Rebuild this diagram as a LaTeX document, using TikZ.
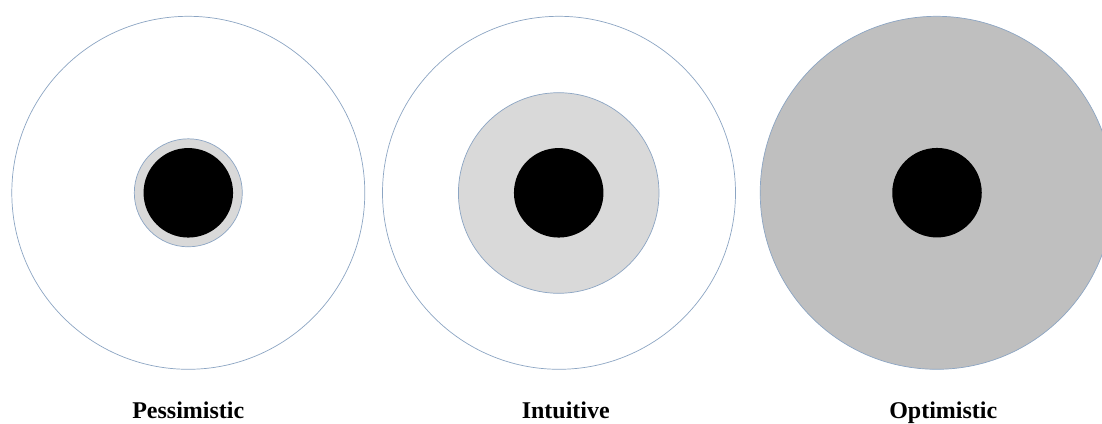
\documentclass[tikz,border=0pt]{standalone}
\usepackage{fontspec}
\setmainfont{Liberation Serif}
\definecolor{rim}{RGB}{140,165,195}
\definecolor{lightfill}{RGB}{217,217,217}
\definecolor{darkfill}{RGB}{191,191,191}
\begin{document}
\begin{tikzpicture}[x=1pt,y=-1pt,
  outer/.style={circle,draw=rim,line width=0.7pt,minimum size=353pt,inner sep=0pt},
  mid/.style={circle,draw=rim,line width=0.7pt,fill=lightfill,inner sep=0pt},
  core/.style={circle,fill=black,minimum size=89.5pt,inner sep=0pt},
  lab/.style={font=\fontsize{24}{28}\selectfont\bfseries,anchor=base}]
\useasboundingbox (0,0) rectangle (1102,423);
\begin{scope}
\clip (0,0) rectangle (1102,423);
\node[outer,fill=white] (o1) at (188.3,192.8) {};
\node[mid,minimum size=108pt] (m1) at (188.3,192.8) {};
\node[core] (c1) at (188.3,192.8) {};
\node[outer,fill=white] (o2) at (559,192.8) {};
\node[mid,minimum size=200.6pt] (m2) at (558.7,193) {};
\node[core] (c2) at (558.7,192.8) {};
\node[outer,fill=darkfill] (o3) at (936.7,192.8) {};
\node[core] (c3) at (937,192.7) {};
\end{scope}
\node[lab] (l1) at (188.3,418.3) {Pessimistic};
\node[lab] (l2) at (565.8,418.3) {Intuitive};
\node[lab] (l3) at (943.3,418.3) {Optimistic};
\end{tikzpicture}
\end{document}
